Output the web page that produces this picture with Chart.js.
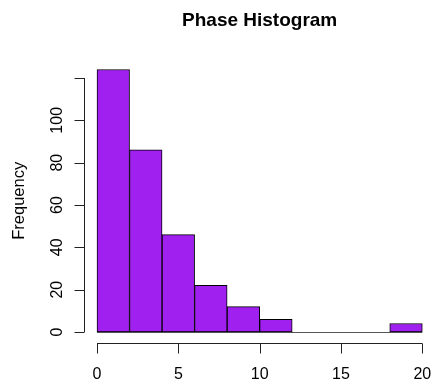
<!DOCTYPE html>
<html>
<head>
<meta charset="utf-8">
<script src="https://cdn.jsdelivr.net/npm/chart.js@4"></script>
<style>
  html, body { margin: 0; padding: 0; background: #fff; overflow: hidden; }
  #wrap { position: relative; width: 440px; height: 387px; }
</style>
</head>
<body>
<div id="wrap"><canvas id="c"></canvas></div>
<script>
const chartTitle = 'Phase Histogram';
const yAxisTitle = 'Frequency';
const binEdges = [0, 2, 4, 6, 8, 10, 12, 14, 16, 18, 20];
const counts = [124, 86, 46, 22, 12, 6, 0, 0, 0, 4];
const xTicks = [0, 5, 10, 15, 20];
const xTickLabels = ['0', '5', '10', '15', '20'];
const yTicks = [0, 20, 40, 60, 80, 100, 120];
const yTickLabels = ['0', '20', '40', '60', '80', '100', ''];

const FONT = '"Liberation Sans", Arial, Helvetica, sans-serif';

const points = counts.map((c, i) => ({ x: (binEdges[i] + binEdges[i + 1]) / 2, y: c }));

const rAxes = {
  id: 'rAxes',
  beforeDatasetsDraw(chart) {
    const ctx = chart.ctx;
    const xs = chart.scales.x, ys = chart.scales.y;
    const y0 = Math.round(ys.getPixelForValue(0)) + 0.5;
    ctx.save();
    ctx.strokeStyle = '#555';
    ctx.lineWidth = 1;
    ctx.beginPath();
    ctx.moveTo(xs.getPixelForValue(binEdges[0]), y0);
    ctx.lineTo(xs.getPixelForValue(binEdges[binEdges.length - 1]), y0);
    ctx.stroke();
    ctx.restore();
  },
  afterDraw(chart) {
    const ctx = chart.ctx;
    const xs = chart.scales.x, ys = chart.scales.y;
    const area = chart.chartArea;
    const tickLen = 10;
    ctx.save();
    ctx.strokeStyle = '#222';
    ctx.fillStyle = '#000';
    ctx.lineWidth = 1;
    // y axis
    const ax = Math.round(area.left) + 0.5;
    ctx.beginPath();
    ctx.moveTo(ax, ys.getPixelForValue(yTicks[0]));
    ctx.lineTo(ax, ys.getPixelForValue(yTicks[yTicks.length - 1]));
    yTicks.forEach(v => {
      const py = Math.round(ys.getPixelForValue(v)) + 0.5;
      ctx.moveTo(ax, py);
      ctx.lineTo(ax - tickLen, py);
    });
    ctx.stroke();
    ctx.font = '16px ' + FONT;
    ctx.textAlign = 'center';
    ctx.textBaseline = 'middle';
    yTicks.forEach((v, i) => {
      const py = ys.getPixelForValue(v);
      ctx.save();
      ctx.translate(ax - 27, py);
      ctx.rotate(-Math.PI / 2);
      ctx.fillText(yTickLabels[i], 0, 0);
      ctx.restore();
    });
    // x axis
    const ay = Math.round(area.bottom) + 0.5;
    ctx.beginPath();
    ctx.moveTo(xs.getPixelForValue(xTicks[0]), ay);
    ctx.lineTo(xs.getPixelForValue(xTicks[xTicks.length - 1]), ay);
    xTicks.forEach(v => {
      const px = Math.round(xs.getPixelForValue(v)) + 0.5;
      ctx.moveTo(px, ay);
      ctx.lineTo(px, ay + tickLen);
    });
    ctx.stroke();
    xTicks.forEach((v, i) => {
      ctx.fillText(xTickLabels[i], xs.getPixelForValue(v), ay + 31);
    });
    // y axis title
    ctx.font = '16.5px ' + FONT;
    ctx.save();
    ctx.translate(19, (area.top + area.bottom) / 2);
    ctx.rotate(-Math.PI / 2);
    ctx.fillText(yAxisTitle, 0, 0);
    ctx.restore();
    ctx.restore();
  }
};

new Chart(document.getElementById('c'), {
  type: 'bar',
  data: {
    datasets: [{
      data: points,
      backgroundColor: '#A020F0',
      borderColor: '#000',
      borderWidth: 1,
      borderSkipped: false,
      barPercentage: 1,
      categoryPercentage: 1
    }]
  },
  options: {
    responsive: true,
    maintainAspectRatio: false,
    animation: false,
    layout: { padding: { left: 84, right: 4.7, top: 9, bottom: 44.5 } },
    scales: {
      x: { type: 'linear', min: -0.8, max: 20.8, display: false, offset: false },
      y: { type: 'linear', min: -4.96, max: 128.96, display: false }
    },
    plugins: {
      legend: { display: false },
      tooltip: { enabled: false },
      title: {
        display: true,
        text: chartTitle,
        fullSize: false,
        color: '#000',
        font: { family: FONT, size: 19, weight: 'bold', lineHeight: 1.2 },
        padding: { top: 0, bottom: 27.2 }
      }
    }
  },
  plugins: [rAxes]
});
</script>
</body>
</html>
